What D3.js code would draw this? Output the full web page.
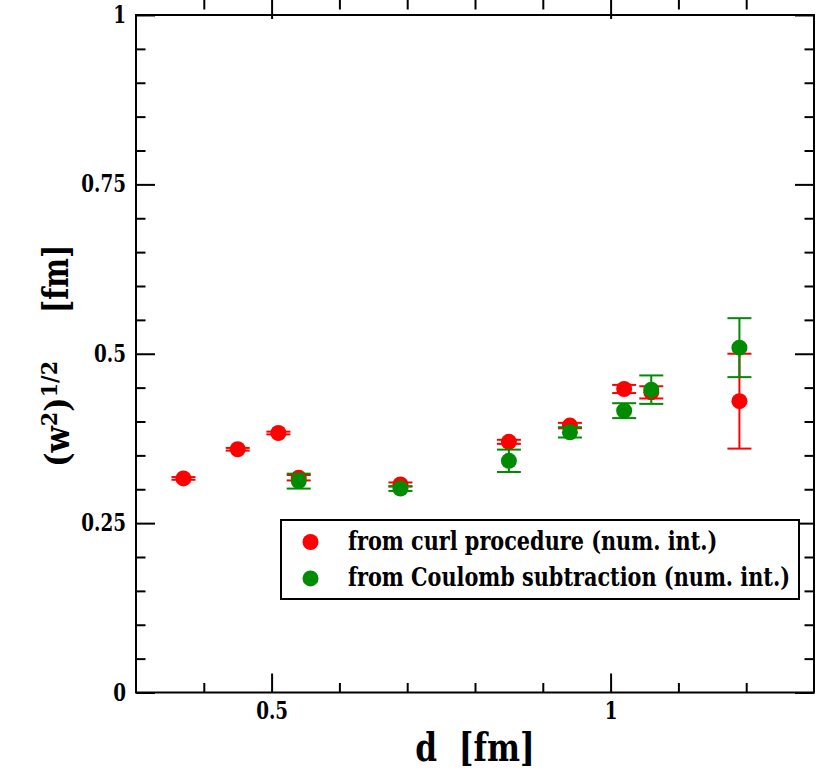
<!DOCTYPE html>
<html lang="en">
<head>
    <meta charset="UTF-8">
    <title>width vs d</title>
    <style>
        body { margin: 0; background: #fff; }
    </style>
</head>
<body>
<script src="https://cdn.jsdelivr.net/npm/d3@7"></script>
<script>
    // curl procedure (red)
    var curlD   = [0.37, 0.45, 0.51, 0.54, 0.69, 0.85, 0.94, 1.02, 1.06, 1.19];
    var curlW   = [0.316, 0.359, 0.383, 0.317, 0.307, 0.370, 0.394, 0.448, 0.443, 0.430];
    var curlErr = [0.002, 0.002, 0.002, 0.004, 0.003, 0.003, 0.004, 0.006, 0.009, 0.070];

    // Coulomb subtraction (green)
    var coulD   = [0.54, 0.69, 0.85, 0.94, 1.02, 1.06, 1.19];
    var coulW   = [0.312, 0.301, 0.342, 0.384, 0.416, 0.447, 0.509];
    var coulErr = [0.011, 0.0035, 0.0165, 0.0076, 0.011, 0.021, 0.0435];

    var xMajor = [0.5, 1], xMajorLabels = ["0.5", "1"];
    var xMinor = [0.4, 0.6, 0.7, 0.8, 0.9, 1.1, 1.2];
    var yMajor = [0, 0.25, 0.5, 0.75, 1], yMajorLabels = ["0", "0.25", "0.5", "0.75", "1"];
    var yMinor = [0.05, 0.1, 0.15, 0.2, 0.3, 0.35, 0.4, 0.45, 0.55, 0.6, 0.65, 0.7, 0.8, 0.85, 0.9, 0.95];

    var legendLabels = ["from curl procedure (num. int.)", "from Coulomb subtraction (num. int.)"];

    var svg = d3.select("body").append("svg")
            .attr("width", 830)
            .attr("height", 770)
            .attr("font-family", "DejaVu Serif")
            .attr("font-weight", "bold");

    var x = d3.scaleLinear().domain([0.3, 1.3]).range([136, 814]);
    var y = d3.scaleLinear().domain([0, 1]).range([692.5, 15]);

    //DejaVu Serif is much wider than Times, squeeze short labels horizontally
    function squeeze(sel, k) {
        sel.each(function() {
            var w = this.getComputedTextLength();
            if (w > 0) d3.select(this).attr("textLength", w * k).attr("lengthAdjust", "spacingAndGlyphs");
        });
    }

    //ticks on all four sides, pointing inward
    function tickAxis(axisFn, scale, vals, size, labels, pos) {
        var a = axisFn(scale).tickValues(vals).tickSizeOuter(0).tickSize(size).tickPadding(10)
                .tickFormat(function(d, i) { return labels ? labels[i] : ""; });
        var g = svg.append("g").attr("transform", pos).call(a);
        g.attr("font-family", "DejaVu Serif");
        g.select(".domain").remove();
        g.selectAll("line").attr("stroke", "#000").attr("stroke-width", 2);
        g.selectAll("text").attr("font-size", 23.5).attr("fill", "#000");
        if (labels) squeeze(g.selectAll("text"), 0.78);
        return g;
    }
    var bottom = "translate(0," + y(0) + ")", top = "translate(0," + y(1) + ")";
    var left = "translate(" + x(0.3) + ",0)", right = "translate(" + x(1.3) + ",0)";

    tickAxis(d3.axisBottom, x, xMajor, -19, xMajorLabels, bottom);
    tickAxis(d3.axisBottom, x, xMinor, -9.5, null, bottom);
    tickAxis(d3.axisTop, x, xMajor, -19, null, top);
    tickAxis(d3.axisTop, x, xMinor, -9.5, null, top);
    tickAxis(d3.axisLeft, y, yMajor, -19, yMajorLabels, left);
    tickAxis(d3.axisLeft, y, yMinor, -9.5, null, left);
    tickAxis(d3.axisRight, y, yMajor, -19, null, right);
    tickAxis(d3.axisRight, y, yMinor, -9.5, null, right);

    svg.append("rect")
            .attr("x", x(0.3)).attr("y", y(1))
            .attr("width", x(1.3) - x(0.3)).attr("height", y(0) - y(1))
            .attr("fill", "none").attr("stroke", "#000").attr("stroke-width", 2);

    //series: error bars first, then circles
    function drawSeries(ds, ws, es, color) {
        var pts = ds.map(function(d, i) { return {d: d, w: ws[i], e: es[i]}; });
        var g = svg.append("g");
        var eb = g.selectAll("g.eb").data(pts).enter().append("g")
                .attr("stroke", color).attr("stroke-width", 2);
        eb.append("line")
                .attr("x1", function(p) { return x(p.d); }).attr("x2", function(p) { return x(p.d); })
                .attr("y1", function(p) { return y(p.w - p.e); }).attr("y2", function(p) { return y(p.w + p.e); });
        [-1, 1].forEach(function(s) {
            eb.append("line")
                    .attr("x1", function(p) { return x(p.d) - 12; }).attr("x2", function(p) { return x(p.d) + 12; })
                    .attr("y1", function(p) { return y(p.w + s * p.e); }).attr("y2", function(p) { return y(p.w + s * p.e); });
        });
        g.selectAll("circle").data(pts).enter().append("circle")
                .attr("cx", function(p) { return x(p.d); })
                .attr("cy", function(p) { return y(p.w); })
                .attr("r", 8)
                .attr("fill", color);
    }
    drawSeries(curlD, curlW, curlErr, "#ff0000");
    drawSeries(coulD, coulW, coulErr, "#008b00");

    //legend
    var lg = svg.append("g");
    lg.append("rect").attr("x", 281).attr("y", 520).attr("width", 518).attr("height", 79)
            .attr("fill", "#fff").attr("stroke", "#000").attr("stroke-width", 2);
    ["#ff0000", "#008b00"].forEach(function(c, i) {
        lg.append("circle").attr("cx", 310.5).attr("cy", 542 + i * 36.4).attr("r", 8).attr("fill", c);
        lg.append("text")
                .attr("transform", "translate(348," + (550 + i * 36.4) + ") scale(0.8,1)")
                .attr("font-size", 26).text(legendLabels[i]);
    });

    //axis titles
    svg.append("text")
            .attr("transform", "translate(475,761) scale(0.78,1)")
            .attr("text-anchor", "middle")
            .attr("font-size", 40)
            .attr("xml:space", "preserve")
            .text("d  [fm]");

    var yl = svg.append("text")
            .attr("transform", "translate(69,467) rotate(-90) scale(0.9,1)")
            .attr("font-size", 34);
    yl.append("tspan").text("(w");
    yl.append("tspan").attr("font-size", 23).attr("dy", -12).text("2");
    yl.append("tspan").attr("dy", 12).text(")");
    yl.append("tspan").attr("font-size", 23).attr("dy", -12).text("1/2");
    svg.append("text")
            .attr("transform", "translate(68,313) rotate(-90) scale(0.78,1)")
            .attr("font-size", 36)
            .text("[fm]");
</script>
</body>
</html>
